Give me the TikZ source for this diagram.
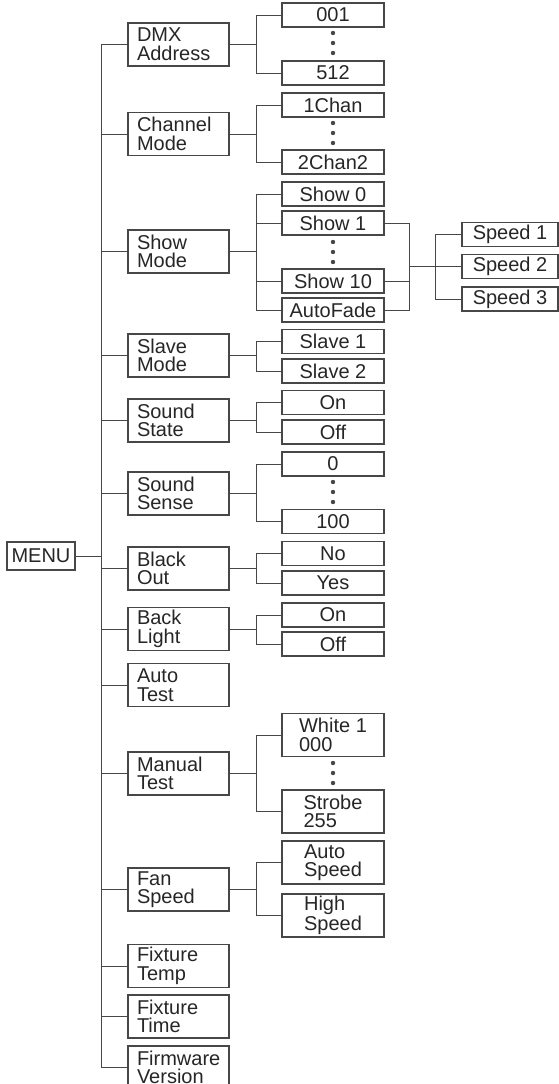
\documentclass[tikz,border=0pt]{standalone}
\usepackage{fontspec}
\setmainfont{Liberation Sans}
\usetikzlibrary{positioning}
\colorlet{ink}{black!72}
\tikzset{
  box/.style    ={draw=ink, line width=1.2pt, inner sep=0pt, text=black!85,
                  font=\fontsize{20}{18.6}\selectfont},
  menubox/.style={box, minimum width=68pt, minimum height=28pt},
  grpbox/.style ={box, minimum width=101pt, minimum height=43pt,
                  text width=83pt, align=left},
  optbox/.style ={box, minimum width=102pt, minimum height=24pt},
  optboxB/.style={box, minimum width=102pt, minimum height=43pt, align=left},
  spdbox/.style ={box, minimum width=96pt, minimum height=24pt},
  link/.style   ={draw=ink, line width=0.9pt},
  vdot/.style   ={circle, fill=ink, inner sep=0pt, minimum size=4.4pt},
}

\begin{document}
\begin{tikzpicture}[x=1pt, y=-1pt]
  \useasboundingbox (0,0) rectangle (558,1084);
  % columns of the connectors
  \coordinate (tr) at (101,0);
  \coordinate (jx) at (256,0);
  \coordinate (rx) at (409.5,0);
  \coordinate (sx) at (435.5,0);

  \node[menubox] (menu) at (41,556) {MENU};

  % first level
  \node[grpbox] (dmx)    at (178.5,44.5)   {DMX\\Address};
  \node[grpbox] (chan)   at (178.5,134)    {Channel\\Mode};
  \node[grpbox] (show)   at (178.5,251.5)  {Show\\Mode};
  \node[grpbox] (slave)  at (178.5,355.5)  {Slave\\Mode};
  \node[grpbox] (sstate) at (178.5,420.5)  {Sound\\State};
  \node[grpbox] (ssense) at (178.5,493.5)  {Sound\\Sense};
  \node[grpbox] (blk)    at (178.5,568.5)  {Black\\Out};
  \node[grpbox] (bkl)    at (178.5,629)    {Back\\Light};
  \node[grpbox] (atest)  at (178.5,685)    {Auto\\Test};
  \node[grpbox] (mtest)  at (178.5,773.5)  {Manual\\Test};
  \node[grpbox] (fan)    at (178.5,889.5)  {Fan\\Speed};
  \node[grpbox] (ftemp)  at (178.5,966)    {Fixture\\Temp};
  \node[grpbox] (ftime)  at (178.5,1016.5) {Fixture\\Time};
  \node[grpbox] (fw)     at (178.5,1067.5) {Firmware\\Version};

  % second level
  \node[optbox]  (a001)   at (333,15)    {001};
  \node[optbox]  (a512)   at (333,73)    {512};
  \node[optbox]  (c1)     at (333,105)   {1Chan};
  \node[optbox]  (c2)     at (333,162)   {2Chan2};
  \node[optbox]  (s0)     at (333,194)   {Show 0};
  \node[optbox]  (s1)     at (333,223)   {Show 1};
  \node[optbox]  (s10)    at (333,281)   {Show 10};
  \node[optbox]  (saf)    at (333,310)   {AutoFade};
  \node[optbox]  (sl1)    at (333,341.5) {Slave 1};
  \node[optbox]  (sl2)    at (333,371)   {Slave 2};
  \node[optbox]  (son)    at (333,402.5) {On};
  \node[optbox]  (soff)   at (333,432)   {Off};
  \node[optbox]  (ss0)    at (333,464)   {0};
  \node[optbox]  (ss100)  at (333,521.5) {100};
  \node[optbox]  (bno)    at (333,553.5) {No};
  \node[optbox]  (byes)   at (333,583)   {Yes};
  \node[optbox]  (lon)    at (333,615)   {On};
  \node[optbox]  (loff)   at (333,644)   {Off};
  \node[optboxB] (white)  at (333,735)   {White 1\\000};
  \node[optboxB] (strobe) at (333,811.5) {Strobe\\255};
  \node[optboxB] (aspd)   at (333,862.5) {Auto\\Speed};
  \node[optboxB] (hspd)   at (333,915.5) {High\\Speed};

  % speeds of the shows
  \node[spdbox] (sp1) at (510,234.5) {Speed 1};
  \node[spdbox] (sp2) at (510,266.5) {Speed 2};
  \node[spdbox] (sp3) at (510,299)   {Speed 3};

  % elided ranges
  \foreach \y in {33,43,53,123,133,143,242,252,262,482,492,502,763,773,783}
    \node[vdot] at (333,\y) {};

  % trunk
  \draw[link] (menu.east) -- (menu.east -| tr);
  \draw[link] (dmx.west -| tr) -- (fw.west -| tr);
  \foreach \p in {dmx,chan,show,slave,sstate,ssense,blk,bkl,atest,mtest,
                  fan,ftemp,ftime,fw}
    \draw[link] (\p.west -| tr) -- (\p.west);

  % branches
  \foreach \p/\c in {dmx/a001,dmx/a512,chan/c1,chan/c2,show/s0,show/s1,
                     show/s10,show/saf,slave/sl1,slave/sl2,sstate/son,
                     sstate/soff,ssense/ss0,ssense/ss100,blk/bno,blk/byes,
                     bkl/lon,bkl/loff,mtest/white,mtest/strobe,fan/aspd,
                     fan/hspd}
    \draw[link] (\p.east) -- (\p.east -| jx) |- (\c.west);

  \foreach \c in {s1,s10,saf}
    \draw[link] (\c.east) -- (\c.east -| rx);
  \draw[link] (s1.east -| rx) -- (saf.east -| rx);
  \draw[link] (sp2.west -| rx) -- (sp2.west);
  \foreach \c in {sp1,sp3}
    \draw[link] (sp2.west -| sx) |- (\c.west);
\end{tikzpicture}
\end{document}
